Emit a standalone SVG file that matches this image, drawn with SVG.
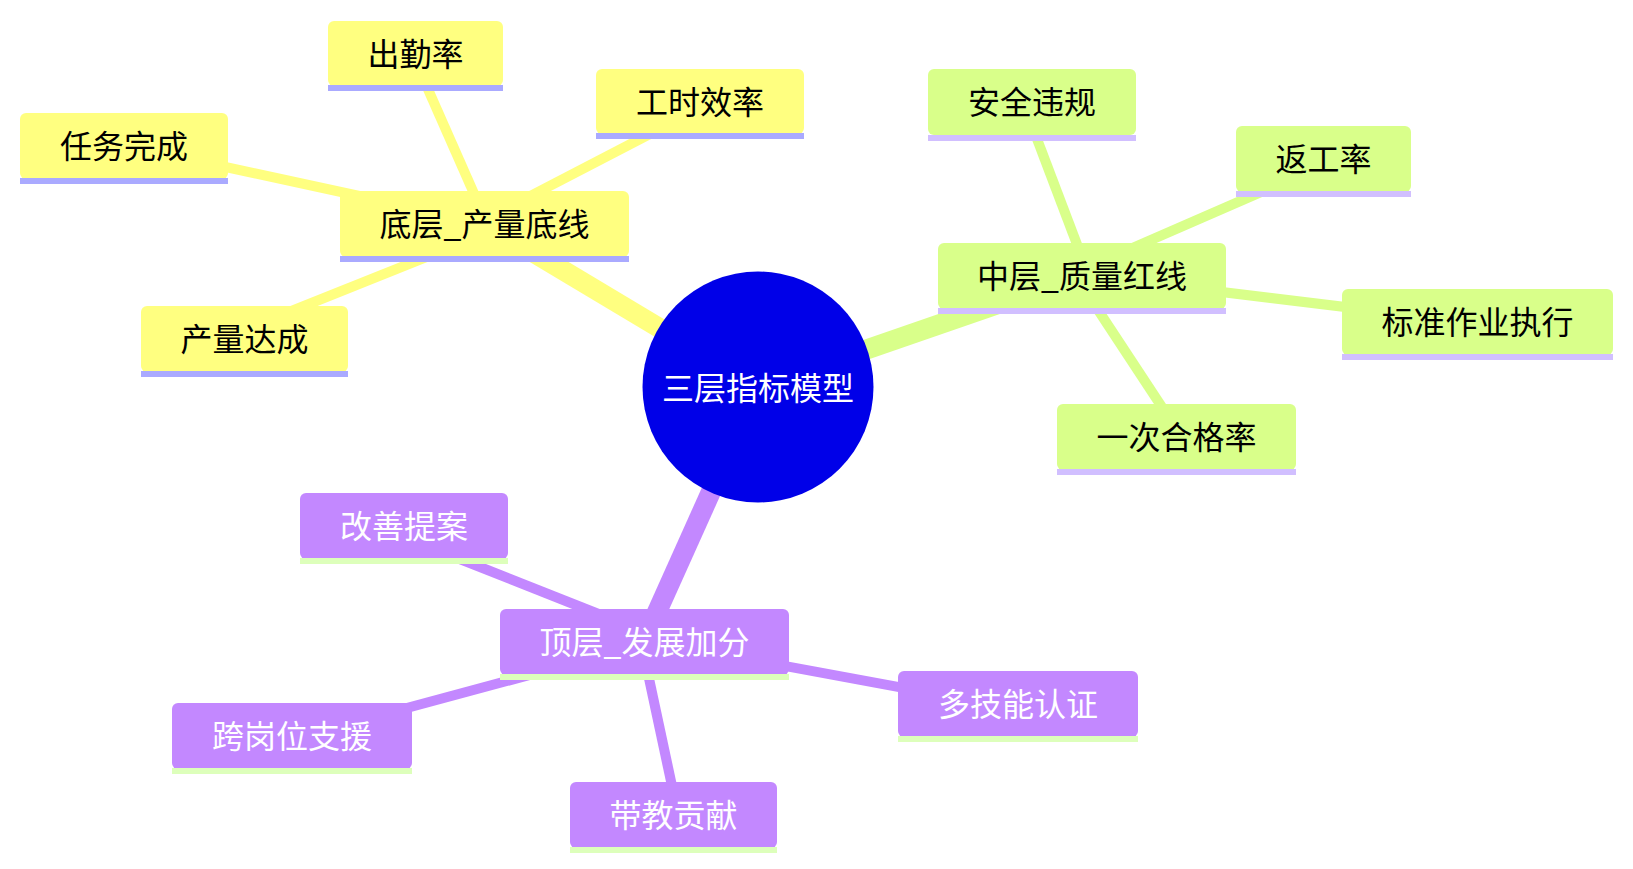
<svg xmlns="http://www.w3.org/2000/svg" width="1633" height="869" viewBox="0 0 1633 869">
<style>
.t{font-family:"Noto Sans CJK SC","Noto Sans",sans-serif;font-size:32px;text-anchor:middle;dominant-baseline:central}
.y rect.b{fill:#FFFF80}.y rect.u{fill:#AAAAFF}.y text{fill:#000}
.g rect.b{fill:#D9FF8A}.g rect.u{fill:#D1BFFF}.g text{fill:#000}
.p rect.b{fill:#C388FF}.p rect.u{fill:#DDFFBB}.p text{fill:#fff}
.cy{stroke:#FFFF80;fill:none}.cg{stroke:#D9FF8A;fill:none}.cp{stroke:#C388FF;fill:none}
.m{stroke-width:20}.c{stroke-width:10}
</style>
<rect width="1633" height="869" fill="#fff"/>
<g id="connectors">
<line class="cy m" x1="758" y1="387" x2="484" y2="223"/>
<line class="cg m" x1="758" y1="387" x2="1082" y2="275"/>
<line class="cp m" x1="758" y1="387" x2="644" y2="641"/>
<line class="cy c" x1="124" y1="145" x2="484" y2="223"/>
<line class="cy c" x1="412" y1="53" x2="487" y2="223"/>
<line class="cy c" x1="700" y1="108" x2="484" y2="220"/>
<line class="cy c" x1="244" y1="330" x2="484" y2="234"/>
<line class="cg c" x1="1023" y1="102" x2="1089" y2="276"/>
<line class="cg c" x1="1323" y1="165" x2="1082" y2="270"/>
<line class="cg c" x1="1477" y1="323" x2="1082" y2="275"/>
<line class="cg c" x1="1181" y1="436" x2="1075" y2="275"/>
<line class="cp c" x1="404" y1="537" x2="644" y2="632"/>
<line class="cp c" x1="292" y1="739" x2="644" y2="644"/>
<line class="cp c" x1="1018" y1="709" x2="644" y2="640"/>
<line class="cp c" x1="678" y1="814" x2="641" y2="641"/>
</g>
<g id="root">
<circle cx="758" cy="387" r="115.5" fill="#0000E8"/>
<text class="t" x="758" y="386" fill="#fff">三层指标模型</text>
</g>
<g id="bottom" class="y">
<rect class="b" x="340" y="191" width="289" height="66" rx="6"/><rect class="u" x="340" y="256" width="289" height="6"/>
<text class="t" x="484.5" y="222">底层_产量底线</text>
</g>
<g id="b1" class="y">
<rect class="b" x="328" y="21" width="175" height="65" rx="6"/><rect class="u" x="328" y="85" width="175" height="6"/>
<text class="t" x="415.5" y="52">出勤率</text>
</g>
<g id="b2" class="y">
<rect class="b" x="596" y="69" width="208" height="65" rx="6"/><rect class="u" x="596" y="133" width="208" height="6"/>
<text class="t" x="700" y="100">工时效率</text>
</g>
<g id="b3" class="y">
<rect class="b" x="20" y="113" width="208" height="66" rx="6"/><rect class="u" x="20" y="178" width="208" height="6"/>
<text class="t" x="124" y="144">任务完成</text>
</g>
<g id="b4" class="y">
<rect class="b" x="141" y="306" width="207" height="66" rx="6"/><rect class="u" x="141" y="371" width="207" height="6"/>
<text class="t" x="244.5" y="337">产量达成</text>
</g>
<g id="middle" class="g">
<rect class="b" x="938" y="243" width="288" height="66" rx="6"/><rect class="u" x="938" y="308" width="288" height="6"/>
<text class="t" x="1082" y="274">中层_质量红线</text>
</g>
<g id="m1" class="g">
<rect class="b" x="928" y="69" width="208" height="66" rx="6"/><rect class="u" x="928" y="135" width="208" height="6"/>
<text class="t" x="1032" y="100">安全违规</text>
</g>
<g id="m2" class="g">
<rect class="b" x="1236" y="126" width="175" height="66" rx="6"/><rect class="u" x="1236" y="191" width="175" height="6"/>
<text class="t" x="1323.5" y="157">返工率</text>
</g>
<g id="m3" class="g">
<rect class="b" x="1342" y="289" width="271" height="66" rx="6"/><rect class="u" x="1342" y="354" width="271" height="6"/>
<text class="t" x="1477.5" y="320">标准作业执行</text>
</g>
<g id="m4" class="g">
<rect class="b" x="1057" y="404" width="239" height="66" rx="6"/><rect class="u" x="1057" y="469" width="239" height="6"/>
<text class="t" x="1176.5" y="435">一次合格率</text>
</g>
<g id="top" class="p">
<rect class="b" x="500" y="609" width="289" height="66" rx="6"/><rect class="u" x="500" y="674" width="289" height="6"/>
<text class="t" x="644.5" y="640">顶层_发展加分</text>
</g>
<g id="t1" class="p">
<rect class="b" x="300" y="493" width="208" height="66" rx="6"/><rect class="u" x="300" y="558" width="208" height="6"/>
<text class="t" x="404" y="524">改善提案</text>
</g>
<g id="t2" class="p">
<rect class="b" x="172" y="703" width="240" height="66" rx="6"/><rect class="u" x="172" y="768" width="240" height="6"/>
<text class="t" x="292" y="734">跨岗位支援</text>
</g>
<g id="t3" class="p">
<rect class="b" x="898" y="671" width="240" height="66" rx="6"/><rect class="u" x="898" y="736" width="240" height="6"/>
<text class="t" x="1018" y="702">多技能认证</text>
</g>
<g id="t4" class="p">
<rect class="b" x="570" y="782" width="207" height="66" rx="6"/><rect class="u" x="570" y="847" width="207" height="6"/>
<text class="t" x="673.5" y="813">带教贡献</text>
</g>
</svg>
